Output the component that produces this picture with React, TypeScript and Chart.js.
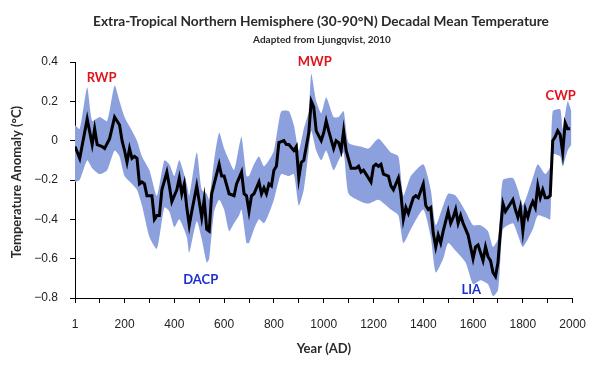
import React, { useEffect, useRef } from "react";
import { Chart, registerables } from "chart.js";

Chart.register(...registerables);

// Decadal mean anomaly (°C)
const years = [1, 20, 50, 70, 80, 90, 110, 120, 140, 160, 180, 190, 200, 210, 220, 230, 240, 250, 260, 270, 280, 290, 310, 320, 330, 340, 350, 370, 380, 390, 410, 420, 430, 440, 450, 460, 470, 490, 500, 510, 520, 530, 540, 550, 560, 580, 590, 600, 620, 640, 650, 670, 680, 690, 700, 710, 720, 740, 750, 760, 770, 780, 790, 800, 810, 820, 840, 850, 860, 880, 890, 900, 910, 920, 940, 950, 960, 970, 990, 1000, 1010, 1020, 1040, 1050, 1060, 1070, 1080, 1090, 1110, 1130, 1140, 1150, 1160, 1170, 1190, 1200, 1210, 1220, 1230, 1240, 1260, 1270, 1280, 1300, 1310, 1320, 1330, 1340, 1360, 1370, 1380, 1400, 1410, 1420, 1430, 1440, 1450, 1460, 1470, 1480, 1500, 1510, 1520, 1530, 1540, 1550, 1560, 1580, 1590, 1600, 1610, 1620, 1630, 1640, 1650, 1660, 1670, 1680, 1690, 1700, 1710, 1720, 1730, 1740, 1760, 1770, 1780, 1790, 1800, 1810, 1820, 1830, 1840, 1850, 1860, 1870, 1880, 1890, 1900, 1910, 1920, 1930, 1940, 1950, 1960, 1970, 1980, 1990];
const meanAnomaly = [-0.03, -0.09, 0.11, -0.02, 0.06, -0.02, -0.03, -0.04, 0.01, 0.12, 0.08, 0.0, -0.05, -0.11, -0.04, -0.09, -0.08, -0.09, -0.22, -0.21, -0.22, -0.28, -0.28, -0.4, -0.38, -0.38, -0.25, -0.16, -0.23, -0.31, -0.25, -0.19, -0.27, -0.22, -0.34, -0.43, -0.36, -0.23, -0.31, -0.39, -0.3, -0.45, -0.46, -0.27, -0.22, -0.12, -0.18, -0.18, -0.27, -0.28, -0.22, -0.16, -0.27, -0.28, -0.36, -0.28, -0.27, -0.21, -0.27, -0.24, -0.27, -0.22, -0.23, -0.15, -0.13, -0.01, 0.0, -0.02, -0.02, -0.05, -0.03, -0.19, -0.11, -0.1, 0.04, 0.2, 0.17, 0.05, 0.0, 0.04, 0.1, 0.05, -0.04, 0.0, -0.01, -0.05, 0.05, -0.05, -0.14, -0.14, -0.13, -0.16, -0.15, -0.17, -0.21, -0.13, -0.12, -0.13, -0.12, -0.17, -0.18, -0.23, -0.25, -0.19, -0.27, -0.4, -0.34, -0.37, -0.29, -0.28, -0.29, -0.22, -0.33, -0.35, -0.34, -0.47, -0.54, -0.48, -0.52, -0.46, -0.36, -0.42, -0.39, -0.35, -0.42, -0.38, -0.42, -0.48, -0.54, -0.6, -0.54, -0.53, -0.57, -0.61, -0.54, -0.59, -0.61, -0.67, -0.69, -0.62, -0.46, -0.32, -0.36, -0.34, -0.3, -0.35, -0.39, -0.34, -0.46, -0.35, -0.39, -0.34, -0.31, -0.34, -0.23, -0.29, -0.25, -0.29, -0.29, -0.28, 0.0, 0.02, 0.05, 0.03, -0.06, 0.09, 0.06, 0.06];

// Uncertainty band
const bandYears = [1, 20, 50, 70, 100, 130, 160, 180, 200, 230, 250, 270, 300, 330, 360, 380, 400, 420, 450, 460, 490, 510, 530, 540, 560, 580, 600, 620, 640, 660, 670, 690, 700, 720, 740, 760, 780, 800, 820, 830, 860, 880, 900, 920, 940, 950, 970, 990, 1010, 1040, 1060, 1080, 1100, 1150, 1180, 1220, 1270, 1300, 1320, 1350, 1400, 1430, 1450, 1480, 1500, 1530, 1570, 1600, 1630, 1660, 1680, 1700, 1710, 1720, 1760, 1780, 1800, 1840, 1860, 1890, 1910, 1920, 1950, 1960, 1980, 1995];
const bandUpper = [0.08, 0.06, 0.27, 0.1, 0.12, 0.1, 0.28, 0.2, 0.12, 0.05, 0.0, -0.08, -0.15, -0.28, -0.1, -0.12, -0.18, -0.1, -0.22, -0.28, -0.06, -0.25, -0.27, -0.3, -0.1, 0.04, -0.04, -0.1, -0.15, -0.03, 0.02, -0.18, -0.18, -0.12, -0.08, -0.13, -0.1, -0.05, 0.1, 0.15, 0.15, 0.08, -0.05, 0.06, 0.15, 0.34, 0.2, 0.14, 0.22, 0.12, 0.12, 0.15, -0.01, -0.03, -0.04, 0.01, -0.06, -0.08, -0.28, -0.18, -0.12, -0.25, -0.43, -0.33, -0.27, -0.28, -0.36, -0.43, -0.43, -0.46, -0.54, -0.5, -0.35, -0.2, -0.19, -0.25, -0.33, -0.19, -0.12, -0.17, -0.13, 0.15, 0.16, 0.06, 0.2, 0.15];
const bandLower = [-0.21, -0.2, -0.1, -0.14, -0.17, -0.15, -0.05, -0.08, -0.18, -0.22, -0.25, -0.33, -0.49, -0.55, -0.34, -0.36, -0.44, -0.4, -0.49, -0.57, -0.41, -0.5, -0.62, -0.6, -0.36, -0.3, -0.35, -0.46, -0.42, -0.38, -0.35, -0.52, -0.52, -0.45, -0.4, -0.42, -0.37, -0.3, -0.2, -0.17, -0.18, -0.17, -0.33, -0.25, -0.05, 0.05, -0.05, -0.1, -0.05, -0.15, -0.1, -0.06, -0.27, -0.31, -0.32, -0.3, -0.35, -0.38, -0.52, -0.45, -0.35, -0.49, -0.67, -0.6, -0.52, -0.56, -0.62, -0.73, -0.71, -0.73, -0.79, -0.76, -0.6, -0.45, -0.42, -0.48, -0.54, -0.45, -0.38, -0.39, -0.4, -0.07, -0.08, -0.13, -0.05, -0.02];

const xTickValues = [1, 100, 200, 300, 400, 500, 600, 700, 800, 900, 1000, 1100, 1200, 1300, 1400, 1500, 1600, 1700, 1800, 1900, 2000];

const periodLabels = ["RWP", "MWP", "CWP", "DACP", "LIA"];
const periodYears = [108, 964, 1952, 506, 1593];
const periodValues = [0.32, 0.4, 0.23, -0.71, -0.76];
const periodColors = ["#e0141c", "#e0141c", "#e0141c", "#1b2fd0", "#1b2fd0"];

const TITLE = "Extra-Tropical Northern Hemisphere (30-90°N) Decadal Mean Temperature";
const SUBTITLE = "Adapted from Ljungqvist, 2010";
const X_TITLE = "Year (AD)";
const Y_TITLE = "Temperature Anomaly (°C)";

const HEAD_FONT = "Lato, 'Open Sans', sans-serif";

const textPlugin = {
  id: "textPlugin",
  afterDatasetsDraw(chart: any) {
    const ctx = chart.ctx;
    const xs = chart.scales.x;
    const ys = chart.scales.y;
    ctx.save();
    ctx.textAlign = "center";
    ctx.textBaseline = "middle";
    ctx.font = `bold 13px ${HEAD_FONT}`;
    for (let i = 0; i < periodLabels.length; i++) {
      ctx.fillStyle = periodColors[i];
      ctx.fillText(periodLabels[i], xs.getPixelForValue(periodYears[i]), ys.getPixelForValue(periodValues[i]));
    }
    ctx.restore();
  },
  afterDraw(chart: any) {
    const ctx = chart.ctx;
    const area = chart.chartArea;
    ctx.save();
    ctx.textAlign = "center";
    ctx.textBaseline = "middle";
    ctx.fillStyle = "#2a2a2a";
    ctx.font = `bold 13.7px ${HEAD_FONT}`;
    ctx.fillText(TITLE, 321, 22);
    ctx.font = `bold 10px ${HEAD_FONT}`;
    ctx.fillText(SUBTITLE, 322, 40);
    ctx.font = `bold 13px ${HEAD_FONT}`;
    ctx.fillText(X_TITLE, (area.left + area.right) / 2, 349);
    ctx.translate(17, (area.top + area.bottom) / 2 + 2);
    ctx.rotate(-Math.PI / 2);
    ctx.fillText(Y_TITLE, 0, 0);
    ctx.restore();
  },
};

export default function App() {
  const ref = useRef<HTMLCanvasElement | null>(null);
  useEffect(() => {
    document.body.style.margin = "0";
    const canvas = ref.current;
    if (!canvas) return;
    const chart = new Chart(canvas, {
      type: "line",
      data: {
        datasets: [
          {
            label: "Mean",
            data: years.map((x, i) => ({ x, y: meanAnomaly[i] })),
            borderColor: "#000000",
            borderWidth: 3,
            pointRadius: 0,
            tension: 0,
            fill: false,
          },
          {
            label: "Upper",
            data: bandYears.map((x, i) => ({ x, y: bandUpper[i] })),
            borderWidth: 0,
            borderColor: "rgba(0,0,0,0)",
            pointRadius: 0,
            tension: 0.2,
            fill: false,
          },
          {
            label: "Lower",
            data: bandYears.map((x, i) => ({ x, y: bandLower[i] })),
            borderWidth: 0,
            borderColor: "rgba(0,0,0,0)",
            backgroundColor: "rgb(140,160,222)",
            pointRadius: 0,
            tension: 0.2,
            fill: 1,
          },
        ],
      },
      options: {
        responsive: false,
        animation: false,
        layout: { padding: { top: 62, right: 23, left: 0, bottom: 0 } },
        plugins: { legend: { display: false }, tooltip: { enabled: false } },
        scales: {
          x: {
            type: "linear",
            min: 1,
            max: 2000,
            afterBuildTicks: (s: any) => {
              s.ticks = xTickValues.map((v) => ({ value: v }));
            },
            afterFit: (s: any) => {
              s.height = 74;
            },
            ticks: {
              autoSkip: false,
              maxRotation: 0,
              padding: 14,
              color: "#222222",
              font: { family: "'Liberation Sans', Arial, sans-serif", size: 12 },
              callback: (v: any) => (v === 1 || v % 200 === 0 ? String(v) : ""),
            },
            grid: { drawOnChartArea: false, drawTicks: true, tickLength: 5, color: "#000000" },
            border: { display: true, color: "#000000", width: 1 },
          },
          y: {
            min: -0.8,
            max: 0.4,
            afterFit: (s: any) => {
              s.width = 75;
            },
            ticks: {
              stepSize: 0.2,
              padding: 12,
              color: "#222222",
              font: { family: "'Liberation Sans', Arial, sans-serif", size: 12 },
              callback: (v: any) => {
                const r = Math.round(Number(v) * 10) / 10;
                return r === 0 ? "0" : r.toFixed(1).replace("-", "\u2212");
              },
            },
            grid: { drawOnChartArea: false, drawTicks: true, tickLength: 5, color: "#000000" },
            border: { display: true, color: "#000000", width: 1 },
          },
        },
      },
      plugins: [textPlugin],
    });
    return () => chart.destroy();
  }, []);
  return (
    <div style={{ width: 600, height: 372, background: "#ffffff" }}>
      <canvas ref={ref} width={600} height={372} style={{ display: "block" }} />
    </div>
  );
}
